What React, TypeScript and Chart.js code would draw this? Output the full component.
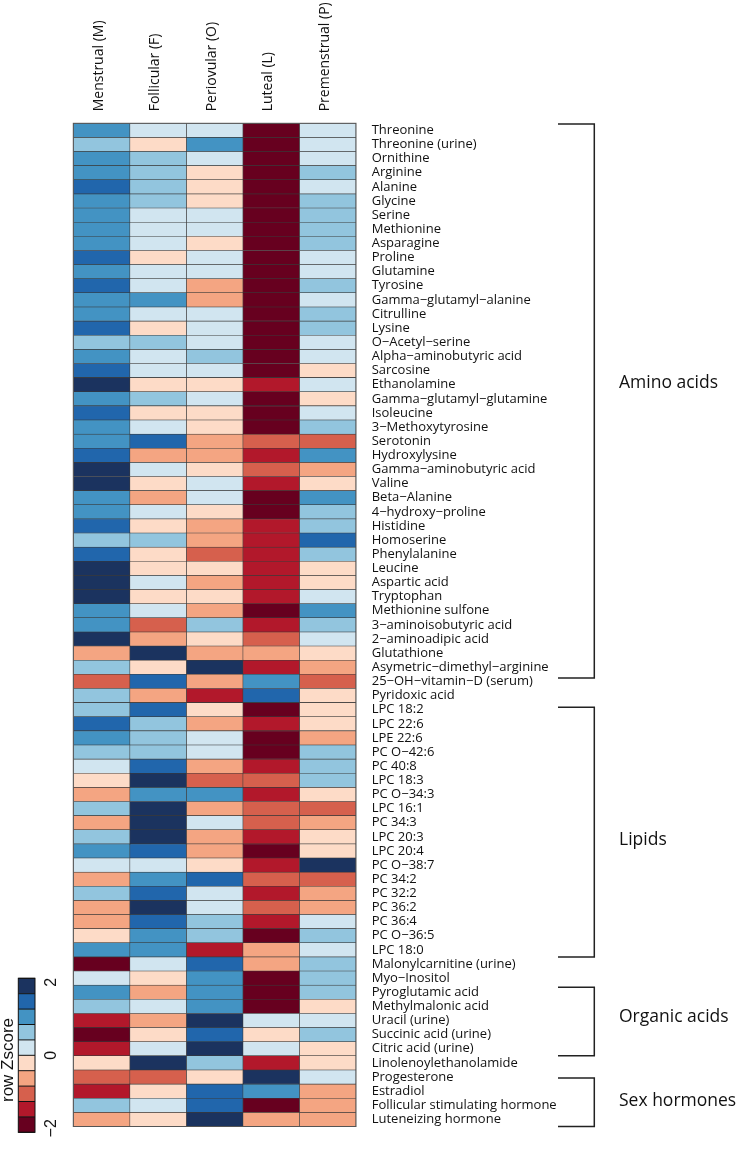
import React, { useEffect, useRef } from "react";
import { Chart, registerables } from "chart.js";

Chart.register(...registerables);

const phases = ["Menstrual (M)", "Follicular (F)", "Periovular (O)", "Luteal (L)", "Premenstrual (P)"];

const metabolites = [
  "Threonine", "Threonine (urine)", "Ornithine", "Arginine", "Alanine", "Glycine", "Serine", "Methionine",
  "Asparagine", "Proline", "Glutamine", "Tyrosine", "Gamma\u2212glutamyl\u2212alanine", "Citrulline", "Lysine",
  "O\u2212Acetyl\u2212serine", "Alpha\u2212aminobutyric acid", "Sarcosine", "Ethanolamine",
  "Gamma\u2212glutamyl\u2212glutamine", "Isoleucine", "3\u2212Methoxytyrosine", "Serotonin", "Hydroxylysine",
  "Gamma\u2212aminobutyric acid", "Valine", "Beta\u2212Alanine", "4\u2212hydroxy\u2212proline", "Histidine",
  "Homoserine", "Phenylalanine", "Leucine", "Aspartic acid", "Tryptophan", "Methionine sulfone",
  "3\u2212aminoisobutyric acid", "2\u2212aminoadipic acid", "Glutathione", "Asymetric\u2212dimethyl\u2212arginine",
  "25\u2212OH\u2212vitamin\u2212D (serum)", "Pyridoxic acid", "LPC 18:2", "LPC 22:6", "LPE 22:6", "PC O\u221242:6",
  "PC 40:8", "LPC 18:3", "PC O\u221234:3", "LPC 16:1", "PC 34:3", "LPC 20:3", "LPC 20:4", "PC O\u221238:7",
  "PC 34:2", "PC 32:2", "PC 36:2", "PC 36:4", "PC O\u221236:5", "LPC 18:0", "Malonylcarnitine (urine)",
  "Myo\u2212Inositol", "Pyroglutamic acid", "Methylmalonic acid", "Uracil (urine)", "Succinic acid (urine)",
  "Citric acid (urine)", "Linolenoylethanolamide", "Progesterone", "Estradiol", "Follicular stimulating hormone",
  "Luteneizing hormone",
];

// row z-scores per phase
const zMenstrual = [
  1.0, 0.6, 1.0, 1.0, 1.4, 1.0, 1.0, 1.0, 1.0, 1.4, 1.0, 1.4, 1.0, 1.0, 1.4, 0.6, 1.0, 1.4, 1.8, 1.0,
  1.4, 1.0, 1.0, 1.4, 1.8, 1.8, 1.0, 1.0, 1.4, 0.6, 1.4, 1.8, 1.8, 1.8, 1.0, 1.0, 1.8, -0.6, 0.6, -1.0,
  0.6, 0.6, 1.4, 1.0, 0.6, 0.2, -0.2, -0.6, 0.6, -0.6, 0.6, 1.0, 0.2, -0.6, 0.6, -0.6, -0.6, -0.2, 1.0, -1.8,
  0.2, 1.0, 0.6, -1.4, -1.8, -1.4, -0.2, -1.0, -1.4, 0.6, -0.6,
];
const zFollicular = [
  0.2, -0.2, 0.6, 0.6, 0.6, 0.6, 0.2, 0.2, 0.2, -0.2, 0.2, 0.2, 1.0, 0.2, -0.2, 0.6, 0.2, 0.2, -0.2, 0.6,
  -0.2, 0.2, 1.4, -0.6, 0.2, -0.2, -0.6, 0.2, -0.2, 0.6, -0.2, -0.2, 0.2, -0.2, 0.2, -1.0, -0.6, 1.8, -0.2, 1.4,
  -0.6, 1.4, 0.6, 0.6, 0.6, 1.4, 1.8, 1.0, 1.8, 1.8, 1.8, 1.4, 0.2, 1.0, 1.4, 1.8, 1.4, 1.0, 1.0, 0.2,
  -0.2, -0.6, 0.2, -0.6, -0.2, 0.2, 1.8, -1.0, -0.2, 0.2, -0.2,
];
const zPeriovular = [
  0.2, 1.0, 0.2, -0.2, -0.2, -0.2, 0.2, 0.2, -0.2, 0.2, 0.2, -0.6, -0.6, 0.2, 0.2, 0.2, 0.6, 0.2, -0.2, 0.2,
  -0.2, -0.2, -0.6, -0.6, -0.2, 0.2, 0.2, -0.2, -0.6, -0.6, -1.0, -0.2, -0.6, -0.2, -0.6, 0.6, -0.2, -0.6, 1.8, -0.6,
  -1.4, -0.2, -0.6, 0.2, 0.2, -0.6, -1.0, 1.0, -0.6, 0.2, -0.6, -0.6, -0.2, 1.4, 0.2, 0.2, 0.6, 0.6, -1.4, 1.4,
  1.0, 1.0, 1.0, 1.8, 1.4, 1.8, 0.6, -0.2, 1.4, 1.4, 1.8,
];
const zLuteal = [
  -1.8, -1.8, -1.8, -1.8, -1.8, -1.8, -1.8, -1.8, -1.8, -1.8, -1.8, -1.8, -1.8, -1.8, -1.8, -1.8, -1.8, -1.8, -1.4, -1.8,
  -1.8, -1.8, -1.0, -1.4, -1.0, -1.4, -1.8, -1.8, -1.4, -1.4, -1.4, -1.4, -1.4, -1.4, -1.8, -1.4, -1.0, -0.6, -1.4, 1.0,
  1.4, -1.8, -1.4, -1.8, -1.8, -1.4, -1.0, -1.4, -1.0, -1.0, -1.4, -1.8, -1.4, -1.0, -1.4, -1.0, -1.4, -1.8, -0.6, -0.6,
  -1.8, -1.8, -1.8, 0.2, -0.2, 0.2, -1.4, 1.8, 1.0, -1.8, -0.6,
];
const zPremenstrual = [
  0.2, 0.2, 0.2, 0.6, 0.2, 0.6, 0.6, 0.6, 0.6, 0.2, 0.2, 0.6, 0.2, 0.6, 0.6, 0.2, 0.2, -0.2, 0.2, -0.2,
  0.2, 0.6, -1.0, 1.0, -0.6, -0.2, 1.0, 0.6, 0.6, 1.4, 0.6, -0.2, -0.2, 0.2, 1.0, 0.6, 0.2, -0.2, -0.6, -1.0,
  -0.2, -0.2, -0.2, -0.6, 0.6, 0.6, 0.6, -0.2, -1.0, -0.6, -0.2, -0.2, 1.8, -1.0, -0.6, -0.6, 0.2, 0.6, 0.2, 0.6,
  0.6, 0.6, -0.2, 0.2, 0.6, -0.2, -0.2, 0.2, -0.6, -0.6, -0.6,
];

const columns = [zMenstrual, zFollicular, zPeriovular, zLuteal, zPremenstrual];

// palette from z = -2 (index 0) to z = +2 (index 9)
const palette = [
  "#67001F", "#B2182B", "#D6604D", "#F4A582", "#FDDBC7",
  "#D1E5F0", "#92C5DE", "#4393C3", "#2166AC", "#1B335F",
];
const keyTicks = [2, 0, -2];

const groupNames = ["Amino acids", "Lipids", "Organic acids", "Sex hormones"];
const groupStart = [0.05, 41.33, 61.15, 67.57];
const groupEnd = [39.25, 59.0, 66.0, 71.0];
const groupLabelAt = [18.4, 50.75, 63.23, 69.17];

function zColor(v: number) {
  let i = Math.floor((v + 2) / 0.4);
  if (i < 0) i = 0;
  if (i > 9) i = 9;
  return palette[i];
}

const FONT = "'Open Sans', sans-serif";

const decor = {
  id: "decor",
  afterDraw(chart: any) {
    const ctx = chart.ctx;
    const y = chart.scales.y;
    const xTop = chart.scales.xTop;
    const edge = (u: number) => y.getPixelForValue(u - 0.5);
    ctx.save();
    // outer frame
    const a = chart.chartArea;
    ctx.strokeStyle = "#555";
    ctx.lineWidth = 1;
    ctx.strokeRect(a.left, a.top, a.right - a.left, a.bottom - a.top);

    // column headers (rotated)
    ctx.fillStyle = "#111";
    ctx.font = `14px ${FONT}`;
    ctx.textAlign = "left";
    ctx.textBaseline = "middle";
    phases.forEach((p, i) => {
      ctx.save();
      ctx.translate(xTop.getPixelForValue(i) - 3, a.top - 12);
      ctx.rotate(-Math.PI / 2);
      ctx.fillText(p, 0, 0);
      ctx.restore();
    });

    // brackets
    ctx.strokeStyle = "#222";
    ctx.lineWidth = 1.5;
    const bx = 594.3;
    const tx = 558;
    groupNames.forEach((name, g) => {
      const y0 = edge(groupStart[g]);
      const y1 = edge(groupEnd[g]);
      ctx.beginPath();
      ctx.moveTo(tx, y0);
      ctx.lineTo(bx, y0);
      ctx.lineTo(bx, y1);
      ctx.lineTo(tx, y1);
      ctx.stroke();
      ctx.fillStyle = "#111";
      ctx.font = `17.5px ${FONT}`;
      ctx.textAlign = "left";
      ctx.textBaseline = "middle";
      ctx.fillText(name, 619, edge(groupLabelAt[g]));
    });

    // colour key
    const kx0 = 18.3, kx1 = 35, ky0 = 978.3, ky1 = 1132.3;
    const kh = (ky1 - ky0) / palette.length;
    for (let i = 0; i < palette.length; i++) {
      ctx.fillStyle = palette[palette.length - 1 - i];
      ctx.fillRect(kx0, ky0 + i * kh, kx1 - kx0, kh);
    }
    ctx.strokeStyle = "#111";
    ctx.lineWidth = 1;
    for (let i = 0; i <= palette.length; i++) {
      ctx.beginPath();
      ctx.moveTo(kx0, ky0 + i * kh);
      ctx.lineTo(kx1, ky0 + i * kh);
      ctx.stroke();
    }
    ctx.strokeRect(kx0, ky0, kx1 - kx0, ky1 - ky0);
    const keyPos = (v: number) => (ky0 + ky1) / 2 - v * 36.5;
    ctx.fillStyle = "#111";
    ctx.font = "16px 'Liberation Sans', Arial, sans-serif";
    ctx.textAlign = "center";
    ctx.textBaseline = "middle";
    keyTicks.forEach((t) => {
      ctx.save();
      ctx.translate(52, keyPos(t));
      ctx.rotate(-Math.PI / 2);
      ctx.fillText(t < 0 ? "\u2212" + Math.abs(t) : String(t), 0, 0);
      ctx.restore();
    });
    ctx.save();
    ctx.translate(13.3, 1060);
    ctx.rotate(-Math.PI / 2);
    ctx.font = "17px 'Liberation Sans', Arial, sans-serif";
    ctx.textBaseline = "alphabetic";
    ctx.textAlign = "center";
    ctx.fillText("row Zscore", 0, 0);
    ctx.restore();

    ctx.restore();
  },
};

export default function App() {
  const ref = useRef<HTMLCanvasElement | null>(null);
  useEffect(() => {
    if (!ref.current) return;
    const chart = new Chart(ref.current, {
      type: "bar",
      data: {
        labels: metabolites,
        datasets: columns.map((vals, j) => ({
          label: phases[j],
          data: vals.map(() => 1),
          backgroundColor: vals.map(zColor),
          borderColor: "#3a3a3a",
          borderWidth: 0.6,
          borderSkipped: false,
          barPercentage: 1,
          categoryPercentage: 1,
          xAxisID: "x",
          yAxisID: "y",
        })),
      },
      options: {
        indexAxis: "y",
        responsive: false,
        animation: false,
        layout: { padding: { left: 73.3, top: 0, right: 0, bottom: 2.7 } },
        scales: {
          x: { type: "linear", stacked: true, min: 0, max: 5, display: false },
          xTop: {
            type: "category",
            labels: phases,
            position: "top",
            offset: true,
            grid: { display: false, drawTicks: false },
            border: { display: false },
            ticks: { display: false },
            afterFit: (s: any) => {
              s.height = 123.3;
            },
          },
          y: {
            type: "category",
            stacked: true,
            position: "right",
            offset: true,
            grid: { display: false, drawTicks: false },
            border: { display: false },
            ticks: {
              autoSkip: false,
              padding: 15.7,
              color: "#111",
              font: { family: FONT, size: 13 },
            },
            afterFit: (s: any) => {
              s.width = 380;
            },
          },
        },
        plugins: { legend: { display: false }, tooltip: { enabled: false } },
      },
      plugins: [decor],
    } as any);
    return () => chart.destroy();
  }, []);
  return (
    <div style={{ position: "absolute", left: 0, top: 0, width: 736, height: 1150, background: "#fff" }}>
      <canvas ref={ref} width={736} height={1150} style={{ width: 736, height: 1150 }} />
    </div>
  );
}
